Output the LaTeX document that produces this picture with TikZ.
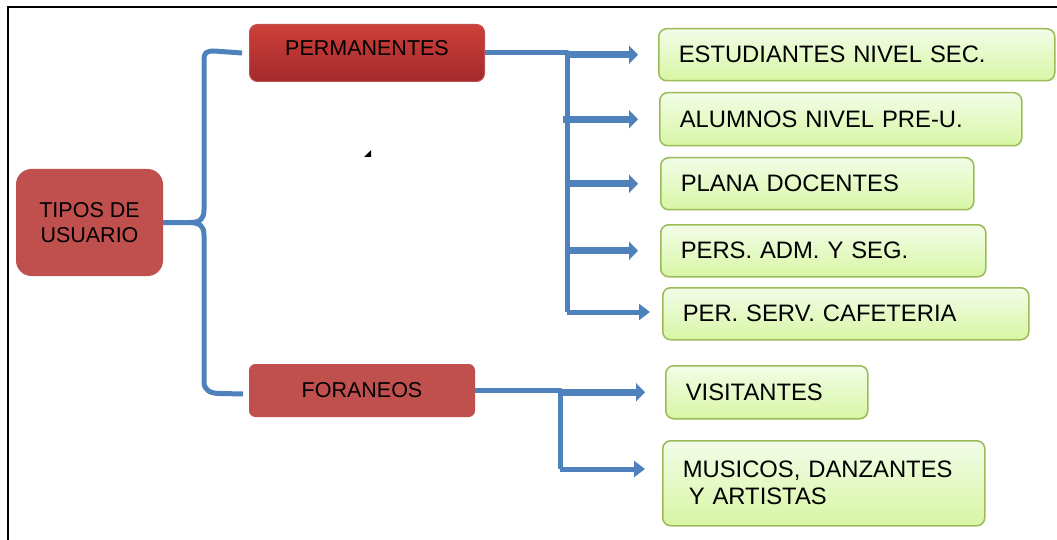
\documentclass[tikz,border=0pt]{standalone}
\usepackage{fontspec}
\setmainfont{Liberation Sans}
\usetikzlibrary{arrows.meta}
\definecolor{lblue}{HTML}{4F81BD}
\definecolor{gborder}{HTML}{9BBB59}
\definecolor{gtop}{HTML}{F2FDE8}
\definecolor{gbot}{HTML}{D8F6A4}
\definecolor{rfill}{HTML}{C0504D}
\definecolor{ptop}{HTML}{CE403A}
\definecolor{pbot}{HTML}{A2292A}
\tikzset{
  gbox/.style={draw=gborder, line width=1.5pt, rounded corners=8pt,
    top color=gtop, bottom color=gbot, anchor=north west,
    inner xsep=20pt, inner ysep=0pt, align=left,
    font=\fontsize{23.8}{27}\selectfont},
  rbox/.style={fill=rfill, draw=rfill, line width=1pt, anchor=north west,
    inner sep=0pt, align=center, font=\fontsize{21.5}{25}\selectfont},
  conn/.style={draw=lblue, line width=5pt, line join=round},
  thickarr/.style={draw=lblue, line width=7pt,
    -{Triangle[length=9pt,width=18pt]}},
  thinarr/.style={draw=lblue, line width=5pt,
    -{Triangle[length=11pt,width=16pt]}}
}
\begin{document}
\begin{tikzpicture}[x=1pt,y=-1pt]
\useasboundingbox (0,0) rectangle (1057,540);
% frame
\draw[line width=2pt] (8,540) -- (8,7) -- (1057,7);
% stray mark
\fill (364,157) -- (371,157) -- (371,150) -- cycle;

% red boxes
\node[rbox, rounded corners=15pt, minimum width=146pt, minimum height=106pt]
  (tipos) at (16,169) {TIPOS DE\\USUARIO};
\node[rbox, rounded corners=8pt, draw=rfill, top color=ptop, bottom color=pbot,
  minimum width=235pt, minimum height=57pt, text depth=10pt]
  (perm) at (249,24) {PERMANENTES};
\node[rbox, rounded corners=6pt, minimum width=225pt, minimum height=52pt]
  (fora) at (249,364) {FORANEOS};

% green boxes
\node[gbox, text width=356pt, minimum height=52pt] (e1) at (658,28) {ESTUDIANTES NIVEL SEC.};
\node[gbox, text width=322pt, minimum height=53pt] (e2) at (659,92) {ALUMNOS NIVEL PRE-U.};
\node[gbox, text width=273pt, minimum height=52pt] (e3) at (660,157) {PLANA DOCENTES};
\node[gbox, text width=285pt, minimum height=52pt] (e4) at (660,224) {PERS. ADM. Y SEG.};
\node[gbox, text width=326pt, minimum height=52pt] (e5) at (662,287) {PER. SERV. CAFETERIA};
\node[gbox, text width=162pt, minimum height=53pt] (e6) at (665,365) {VISITANTES};
\node[gbox, text width=282pt, minimum height=85pt] (e7) at (662,440)
  {MUSICOS, DANZANTES\\\hspace*{6pt}Y ARTISTAS};

% brace
\coordinate (bm) at (190,222.5);
\draw[conn] ([xshift=-7pt]perm.west) -- (214,51) .. controls (206,51) and (204,53) .. (204,60)
  -- (204,210) .. controls (204,219) and (200,222.5) .. (bm) -- (tipos.east);
\draw[conn] (bm) .. controls (200,223) and (204,226) .. (204,235)
  -- (204,382) .. controls (204,390) and (210,393.5) .. (220,393.5)
  -- ([xshift=-6pt,yshift=-3.5pt]fora.west);

% permanentes branches
\coordinate (pb) at (567,312);
\draw[conn] (perm.east) -| (pb);
\draw[thickarr, shorten >=20pt] (pb |- e1.west) -- (e1.west);
\draw[thickarr, shorten >=21pt] ([xshift=-4pt]pb |- e2.west) -- (e2.west);
\draw[thickarr, shorten >=22pt] (pb |- e3.west) -- (e3.west);
\draw[thickarr, shorten >=22pt] (pb |- e4.west) -- (e4.west);
\draw[thinarr, shorten >=12pt] (pb) -- (pb -| e5.west);

% foraneos branches
\coordinate (fb) at (560,469);
\draw[conn] (fora.east) -| (fb);
\draw[thickarr, shorten >=20pt] (fb |- e6.west) -- (e6.west);
\draw[thinarr, shorten >=17pt] (fb) -- (fb -| e7.west);
\end{tikzpicture}
\end{document}
